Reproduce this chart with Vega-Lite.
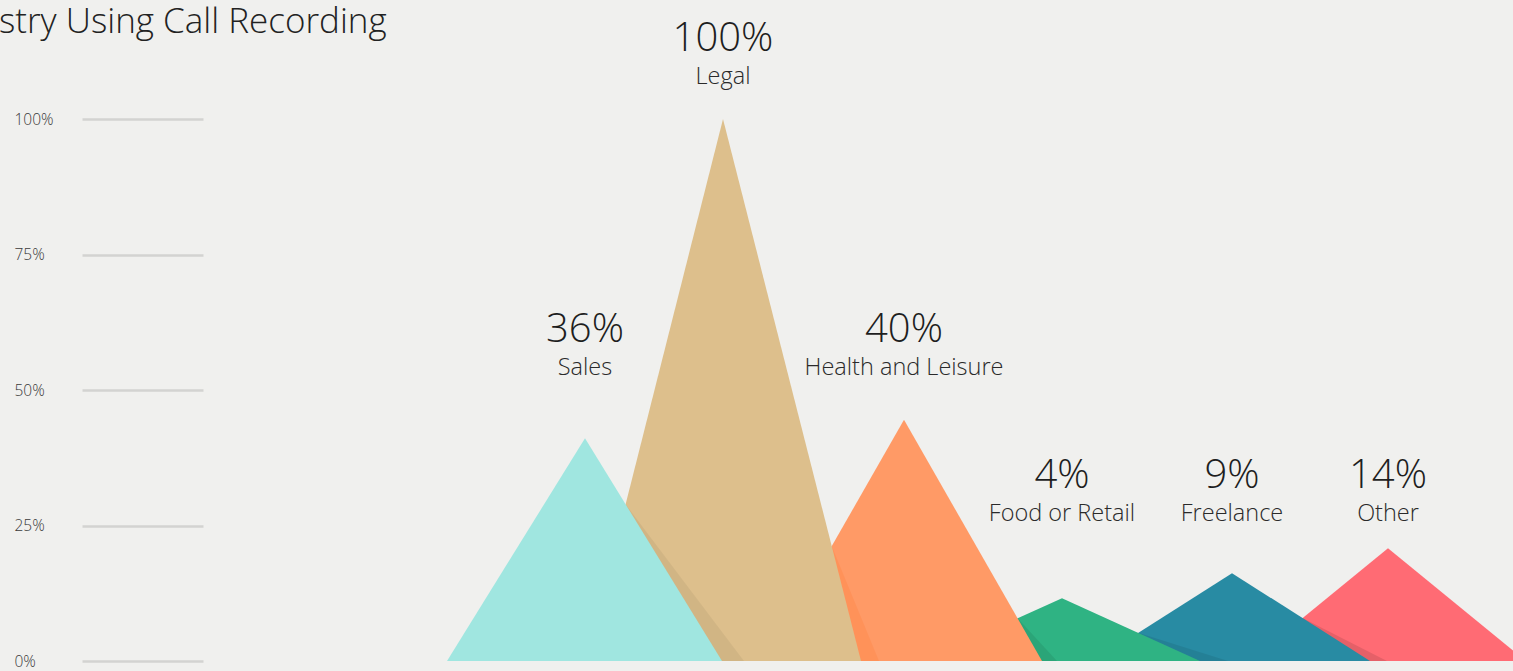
{
  "$schema": "https://vega.github.io/schema/vega-lite/v6.json",
  "width": 1310,
  "height": 542,
  "autosize": {"type": "none"},
  "padding": {"left": 203, "top": 119, "right": 0, "bottom": 10},
  "background": "#f0f0ee",
  "config": {"view": {"stroke": null}, "font": "Open Sans"},
  "title": {
    "text": "Industry Using Call Recording",
    "anchor": "start",
    "frame": "group",
    "font": "Open Sans",
    "fontSize": 35,
    "fontWeight": 300,
    "color": "#222222",
    "dx": -275,
    "dy": 25
  },
  "datasets": {
    "tri": [
      {"k": "Sales", "x": 24.4, "y": 0}, {"k": "Sales", "x": 38.2, "y": 41.1}, {"k": "Sales", "x": 51.9, "y": 0},
      {"k": "Legal", "x": 38.3, "y": 0}, {"k": "Legal", "x": 52.0, "y": 100}, {"k": "Legal", "x": 65.8, "y": 0},
      {"k": "Health and Leisure", "x": 56.3, "y": 0}, {"k": "Health and Leisure", "x": 70.1, "y": 44.5}, {"k": "Health and Leisure", "x": 83.9, "y": 0},
      {"k": "Food or Retail", "x": 72.1, "y": 0}, {"k": "Food or Retail", "x": 85.9, "y": 11.6}, {"k": "Food or Retail", "x": 99.7, "y": 0},
      {"k": "Freelance", "x": 89.1, "y": 0}, {"k": "Freelance", "x": 102.9, "y": 16.2}, {"k": "Freelance", "x": 116.7, "y": 0},
      {"k": "Other", "x": 104.7, "y": 0}, {"k": "Other", "x": 118.5, "y": 20.8}, {"k": "Other", "x": 132.3, "y": 0}
    ],
    "shadow": [
      {"k": "Sales", "x": 42.26, "y": 28.9}, {"k": "Sales", "x": 54.1, "y": 0},
      {"k": "Legal", "x": 62.87, "y": 21.2}, {"k": "Legal", "x": 67.6, "y": 0},
      {"k": "Health and Leisure", "x": 81.46, "y": 7.87}, {"k": "Health and Leisure", "x": 85.4, "y": 0},
      {"k": "Food or Retail", "x": 93.52, "y": 5.19}, {"k": "Food or Retail", "x": 102.5, "y": 0},
      {"k": "Freelance", "x": 109.95, "y": 7.92}, {"k": "Freelance", "x": 118.4, "y": 0}
    ],
    "lab": [
      {"k": "Sales", "pct": "36%", "x": 38.2, "at": 54.0},
      {"k": "Legal", "pct": "100%", "x": 52.0, "at": 107.8},
      {"k": "Health and Leisure", "pct": "40%", "x": 70.1, "at": 54.0},
      {"k": "Food or Retail", "pct": "4%", "x": 85.9, "at": 27.1},
      {"k": "Freelance", "pct": "9%", "x": 102.9, "at": 27.1},
      {"k": "Other", "pct": "14%", "x": 118.5, "at": 27.1}
    ]
  },
  "encoding": {
    "x": {"field": "x", "type": "quantitative", "scale": {"domain": [0, 131], "nice": false, "zero": false}, "axis": null},
    "y": {
      "field": "y", "type": "quantitative", "stack": null,
      "scale": {"domain": [0, 100], "nice": false},
      "axis": {
        "values": [0, 25, 50, 75, 100],
        "labelExpr": "datum.value + '%'",
        "title": null,
        "domain": false,
        "grid": false,
        "ticks": true,
        "tickSize": 121,
        "tickWidth": 2.5,
        "tickColor": "#d3d3d1",
        "labelAlign": "left",
        "labelPadding": 68,
        "labelFont": "Open Sans",
        "labelFontSize": 15.5,
        "labelFontWeight": 300,
        "labelColor": "#3a3a3a",
        "labelBaseline": "middle"
      }
    }
  },
  "layer": [
    {"data": {"name": "tri"}, "transform": [{"filter": "datum.k == 'Other'"}], "mark": {"type": "area", "clip": true},
     "encoding": {"color": {"field": "k", "type": "nominal", "legend": null, "scale": {"domain": ["Sales", "Legal", "Health and Leisure", "Food or Retail", "Freelance", "Other"], "range": ["#a0e6e0", "#ddbf8c", "#ff9a66", "#2fb383", "#288ba3", "#ff6b74"]}}}},
    {"data": {"name": "shadow"}, "transform": [{"filter": "datum.k == 'Freelance'"}], "mark": {"type": "area", "color": "#000000", "opacity": 0.1}},
    {"data": {"name": "tri"}, "transform": [{"filter": "datum.k == 'Freelance'"}], "mark": {"type": "area"},
     "encoding": {"color": {"field": "k", "type": "nominal", "legend": null}}},
    {"data": {"name": "shadow"}, "transform": [{"filter": "datum.k == 'Food or Retail'"}], "mark": {"type": "area", "color": "#000000", "opacity": 0.08}},
    {"data": {"name": "tri"}, "transform": [{"filter": "datum.k == 'Food or Retail'"}], "mark": {"type": "area"},
     "encoding": {"color": {"field": "k", "type": "nominal", "legend": null}}},
    {"data": {"name": "shadow"}, "transform": [{"filter": "datum.k == 'Health and Leisure'"}], "mark": {"type": "area", "color": "#000000", "opacity": 0.08}},
    {"data": {"name": "tri"}, "transform": [{"filter": "datum.k == 'Health and Leisure'"}], "mark": {"type": "area"},
     "encoding": {"color": {"field": "k", "type": "nominal", "legend": null}}},
    {"data": {"name": "shadow"}, "transform": [{"filter": "datum.k == 'Legal'"}], "mark": {"type": "area", "color": "#ff5a00", "opacity": 0.12}},
    {"data": {"name": "tri"}, "transform": [{"filter": "datum.k == 'Legal'"}], "mark": {"type": "area"},
     "encoding": {"color": {"field": "k", "type": "nominal", "legend": null}}},
    {"data": {"name": "shadow"}, "transform": [{"filter": "datum.k == 'Sales'"}], "mark": {"type": "area", "color": "#000000", "opacity": 0.05}},
    {"data": {"name": "tri"}, "transform": [{"filter": "datum.k == 'Sales'"}], "mark": {"type": "area"},
     "encoding": {"color": {"field": "k", "type": "nominal", "legend": null}}},
    {"data": {"name": "lab"}, "mark": {"type": "text", "font": "Open Sans", "fontSize": 40, "fontWeight": 300, "color": "#1e1e1e", "baseline": "middle", "dy": -38},
     "encoding": {"y": {"field": "at", "type": "quantitative"}, "text": {"field": "pct"}}},
    {"data": {"name": "lab"}, "mark": {"type": "text", "font": "Open Sans", "fontSize": 23.5, "fontWeight": 300, "color": "#2a2a2a", "baseline": "middle"},
     "encoding": {"y": {"field": "at", "type": "quantitative"}, "text": {"field": "k"}}}
  ]
}
